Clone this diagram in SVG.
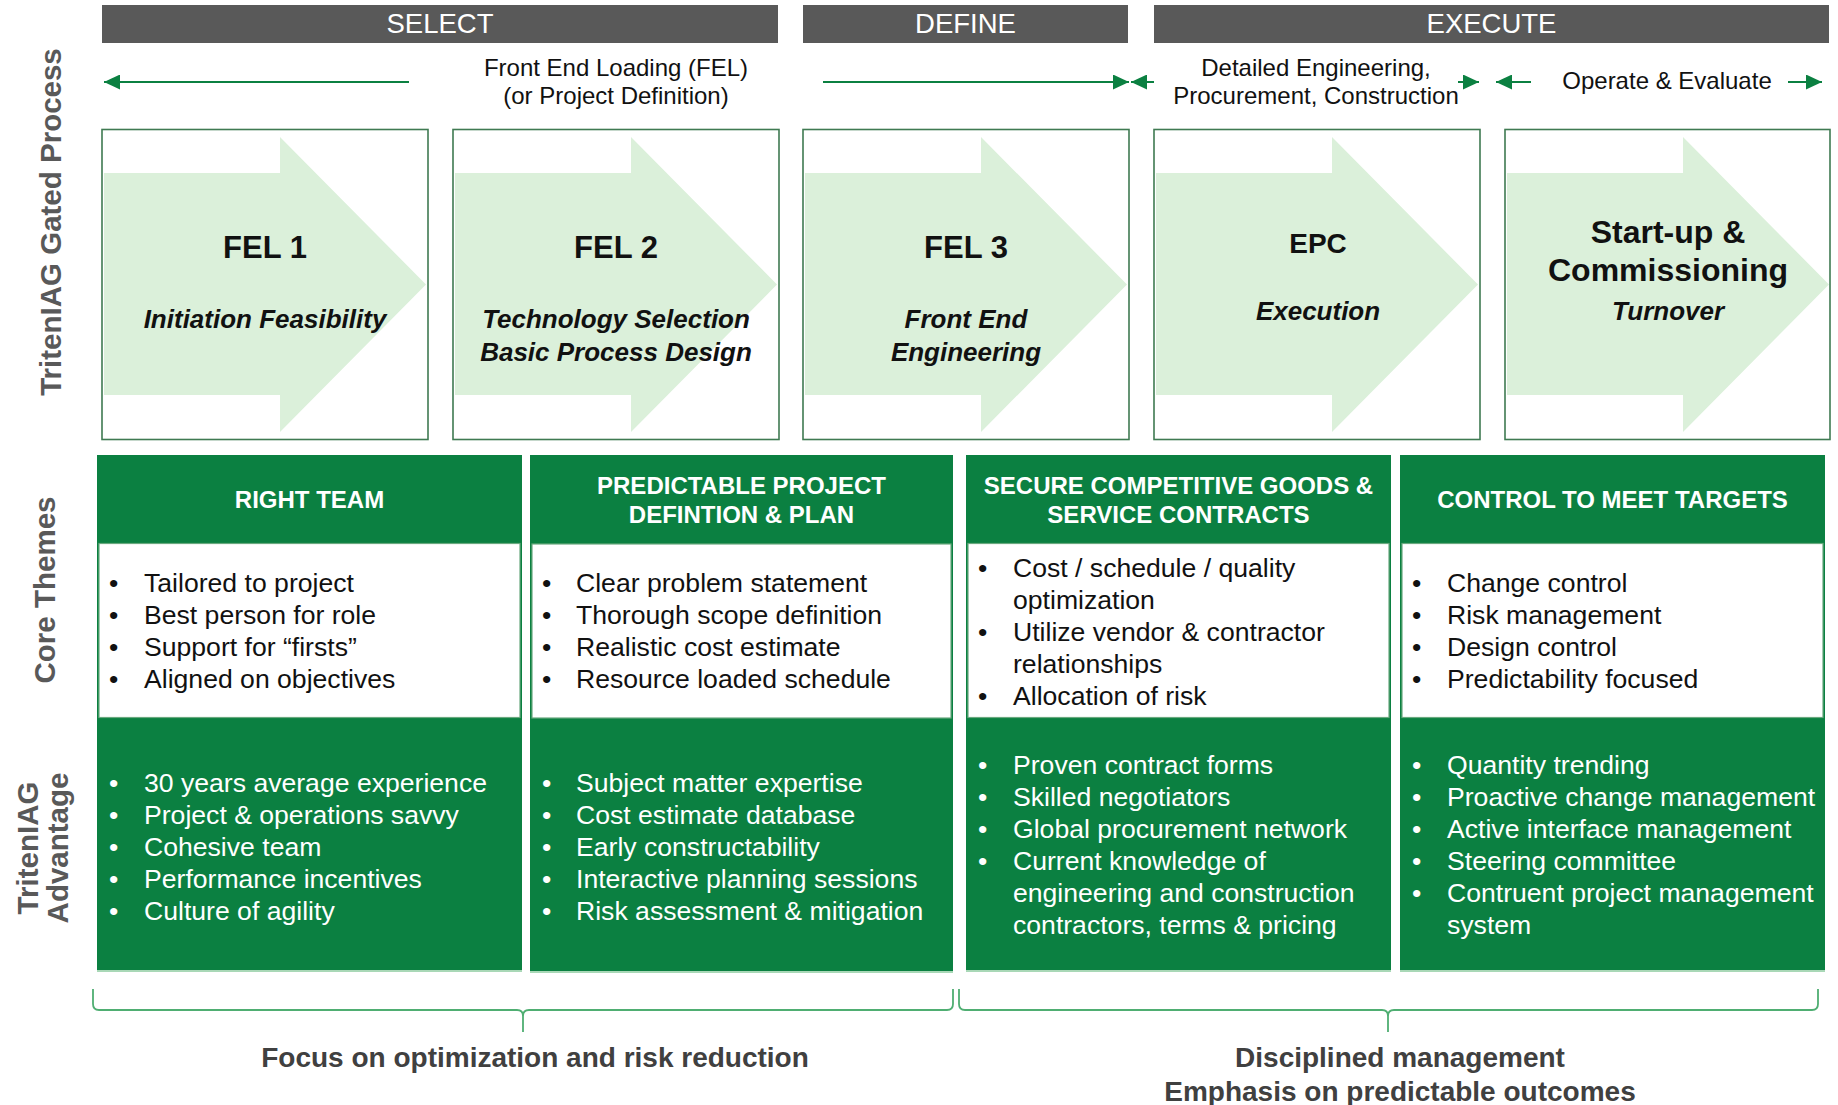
<svg xmlns="http://www.w3.org/2000/svg" width="1838" height="1105" viewBox="0 0 1838 1105">
  <style>
    text { font-family: "Liberation Sans", Arial, sans-serif; }
    .phase-bar { fill: #595959; }
    .phase-label { fill: #ffffff; font-size: 27.5px; text-anchor: middle; }
    .span-label { fill: #111111; font-size: 24px; text-anchor: middle; }
    .stage-box { fill: #ffffff; stroke: #3f7a52; stroke-width: 1.6; }
    .stage-arrow { fill: #dbf0da; }
    .stage-title { fill: #111111; font-size: 31px; font-weight: bold; text-anchor: middle; }
    .stage-sub { fill: #111111; font-size: 26px; font-weight: bold; font-style: italic; text-anchor: middle; }
    .side-label { fill: #595959; font-size: 29.5px; font-weight: bold; text-anchor: middle; }
    .col { fill: #0b8041; }
    .col-white { fill: #ffffff; stroke: #6aa97f; stroke-width: 1.2; }
    .col-edge { stroke: #a9d8b7; stroke-width: 2; }
    .hdr { fill: #ffffff; font-size: 24px; font-weight: bold; text-anchor: middle; }
    .bl { font-size: 26.6px; }
    .bl-dark { fill: #111111; }
    .bl-light { fill: #ffffff; }
    .flow { stroke: #0b8041; stroke-width: 2; fill: none; }
    .brace { stroke: #4fae72; stroke-width: 1.8; fill: none; }
    .note { fill: #404040; font-size: 28px; font-weight: bold; text-anchor: middle; }
  </style>
  <defs>
    <marker id="head" markerUnits="userSpaceOnUse" markerWidth="16" markerHeight="15" refX="16" refY="7.5" orient="auto">
      <path d="M0,0 L16,7.5 L0,15 z" fill="#0b8041"/>
    </marker>
    <path id="stage-arrow-shape" d="M2,44 H178 V8 L324,155.5 L178,303 V266 H2 z"/>
  </defs>

  <rect width="1838" height="1105" fill="#ffffff"/>

  <!-- phase bars -->
  <g id="phase-select">
    <rect class="phase-bar" x="102" y="5" width="676" height="38"/>
    <text class="phase-label" x="440" y="33">SELECT</text>
  </g>
  <g id="phase-define">
    <rect class="phase-bar" x="803" y="5" width="325" height="38"/>
    <text class="phase-label" x="965.5" y="33">DEFINE</text>
  </g>
  <g id="phase-execute">
    <rect class="phase-bar" x="1154" y="5" width="675" height="38"/>
    <text class="phase-label" x="1491.5" y="33">EXECUTE</text>
  </g>

  <!-- span labels above the stages -->
  <g id="span-fel">
    <text class="span-label" x="616" y="76">Front End Loading (FEL)</text>
    <text class="span-label" x="616" y="104">(or Project Definition)</text>
  </g>
  <g id="span-epc">
    <text class="span-label" x="1316" y="76">Detailed Engineering,</text>
    <text class="span-label" x="1316" y="104">Procurement, Construction</text>
  </g>
  <g id="span-operate">
    <text class="span-label" x="1667" y="89">Operate &amp; Evaluate</text>
  </g>

  <!-- side labels -->
  <g id="side-gated">
    <text class="side-label" transform="translate(61,222) rotate(-90)">TritenIAG Gated Process</text>
  </g>
  <g id="side-themes">
    <text class="side-label" transform="translate(55,590) rotate(-90)">Core Themes</text>
  </g>
  <g id="side-advantage">
    <text class="side-label" transform="translate(38,848) rotate(-90)">TritenIAG</text>
    <text class="side-label" transform="translate(68,848) rotate(-90)">Advantage</text>
  </g>

  <!-- stages -->
  <g id="stage-fel1">
    <rect class="stage-box" x="102" y="129.5" width="326" height="310"/>
    <use href="#stage-arrow-shape" class="stage-arrow" x="102" y="129"/>
    <text class="stage-title" x="265" y="258">FEL 1</text>
    <text class="stage-sub" x="265" y="328">Initiation Feasibility</text>
  </g>
  <g id="stage-fel2">
    <rect class="stage-box" x="453" y="129.5" width="326" height="310"/>
    <use href="#stage-arrow-shape" class="stage-arrow" x="453" y="129"/>
    <text class="stage-title" x="616" y="258">FEL 2</text>
    <text class="stage-sub" x="616" y="328">Technology Selection</text>
    <text class="stage-sub" x="616" y="361">Basic Process Design</text>
  </g>
  <g id="stage-fel3">
    <rect class="stage-box" x="803" y="129.5" width="326" height="310"/>
    <use href="#stage-arrow-shape" class="stage-arrow" x="803" y="129"/>
    <text class="stage-title" x="966" y="258">FEL 3</text>
    <text class="stage-sub" x="966" y="328">Front End</text>
    <text class="stage-sub" x="966" y="361">Engineering</text>
  </g>
  <g id="stage-epc">
    <rect class="stage-box" x="1154" y="129.5" width="326" height="310"/>
    <use href="#stage-arrow-shape" class="stage-arrow" x="1154" y="129"/>
    <text class="stage-title" x="1318" y="253" style="font-size:28px">EPC</text>
    <text class="stage-sub" x="1318" y="320">Execution</text>
  </g>
  <g id="stage-startup">
    <rect class="stage-box" x="1505" y="129.5" width="325" height="310"/>
    <use href="#stage-arrow-shape" class="stage-arrow" x="1505" y="129"/>
    <text class="stage-title" x="1668" y="243" style="font-size:32px">Start-up &amp;</text>
    <text class="stage-title" x="1668" y="281" style="font-size:32px">Commissioning</text>
    <text class="stage-sub" x="1668" y="320">Turnover</text>
  </g>

  <!-- core theme columns -->
  <g id="theme-right-team">
    <rect class="col" x="97" y="455" width="425" height="515"/>
    <line class="col-edge" x1="97" y1="971" x2="522" y2="971"/>
    <rect class="col-white" x="99" y="543.5" width="421" height="174"/>
    <text class="hdr" x="309.5" y="508">RIGHT TEAM</text>
    <text class="bl bl-dark">
      <tspan x="109" y="592">•</tspan><tspan x="144" y="592">Tailored to project</tspan>
      <tspan x="109" y="624">•</tspan><tspan x="144" y="624">Best person for role</tspan>
      <tspan x="109" y="656">•</tspan><tspan x="144" y="656">Support for “firsts”</tspan>
      <tspan x="109" y="688">•</tspan><tspan x="144" y="688">Aligned on objectives</tspan>
    </text>
    <text class="bl bl-light">
      <tspan x="109" y="792">•</tspan><tspan x="144" y="792">30 years average experience</tspan>
      <tspan x="109" y="824">•</tspan><tspan x="144" y="824">Project &amp; operations savvy</tspan>
      <tspan x="109" y="856">•</tspan><tspan x="144" y="856">Cohesive team</tspan>
      <tspan x="109" y="888">•</tspan><tspan x="144" y="888">Performance incentives</tspan>
      <tspan x="109" y="920">•</tspan><tspan x="144" y="920">Culture of agility</tspan>
    </text>
  </g>

  <g id="theme-definition">
    <rect class="col" x="530" y="455" width="423" height="516"/>
    <line class="col-edge" x1="530" y1="972" x2="953" y2="972"/>
    <rect class="col-white" x="532" y="544" width="419" height="174"/>
    <text class="hdr" x="741.5" y="494">PREDICTABLE PROJECT</text>
    <text class="hdr" x="741.5" y="523">DEFINTION &amp; PLAN</text>
    <text class="bl bl-dark">
      <tspan x="542" y="592">•</tspan><tspan x="576" y="592">Clear problem statement</tspan>
      <tspan x="542" y="624">•</tspan><tspan x="576" y="624">Thorough scope definition</tspan>
      <tspan x="542" y="656">•</tspan><tspan x="576" y="656">Realistic cost estimate</tspan>
      <tspan x="542" y="688">•</tspan><tspan x="576" y="688">Resource loaded schedule</tspan>
    </text>
    <text class="bl bl-light">
      <tspan x="542" y="792">•</tspan><tspan x="576" y="792">Subject matter expertise</tspan>
      <tspan x="542" y="824">•</tspan><tspan x="576" y="824">Cost estimate database</tspan>
      <tspan x="542" y="856">•</tspan><tspan x="576" y="856">Early constructability</tspan>
      <tspan x="542" y="888">•</tspan><tspan x="576" y="888">Interactive planning sessions</tspan>
      <tspan x="542" y="920">•</tspan><tspan x="576" y="920">Risk assessment &amp; mitigation</tspan>
    </text>
  </g>

  <g id="theme-contracts">
    <rect class="col" x="966" y="455" width="425" height="515"/>
    <line class="col-edge" x1="966" y1="971" x2="1391" y2="971"/>
    <rect class="col-white" x="968" y="543.5" width="421" height="174"/>
    <text class="hdr" x="1178.5" y="494">SECURE COMPETITIVE GOODS &amp;</text>
    <text class="hdr" x="1178.5" y="523">SERVICE CONTRACTS</text>
    <text class="bl bl-dark">
      <tspan x="978" y="577">•</tspan><tspan x="1013" y="577">Cost / schedule / quality</tspan>
      <tspan x="1013" y="609">optimization</tspan>
      <tspan x="978" y="641">•</tspan><tspan x="1013" y="641">Utilize vendor &amp; contractor</tspan>
      <tspan x="1013" y="673">relationships</tspan>
      <tspan x="978" y="705">•</tspan><tspan x="1013" y="705">Allocation of risk</tspan>
    </text>
    <text class="bl bl-light">
      <tspan x="978" y="774">•</tspan><tspan x="1013" y="774">Proven contract forms</tspan>
      <tspan x="978" y="806">•</tspan><tspan x="1013" y="806">Skilled negotiators</tspan>
      <tspan x="978" y="838">•</tspan><tspan x="1013" y="838">Global procurement network</tspan>
      <tspan x="978" y="870">•</tspan><tspan x="1013" y="870">Current knowledge of</tspan>
      <tspan x="1013" y="902">engineering and construction</tspan>
      <tspan x="1013" y="934">contractors, terms &amp; pricing</tspan>
    </text>
  </g>

  <g id="theme-control">
    <rect class="col" x="1400" y="455" width="425" height="515"/>
    <line class="col-edge" x1="1400" y1="971" x2="1825" y2="971"/>
    <rect class="col-white" x="1402" y="543.5" width="421" height="174"/>
    <text class="hdr" x="1612.5" y="508">CONTROL TO MEET TARGETS</text>
    <text class="bl bl-dark">
      <tspan x="1412" y="592">•</tspan><tspan x="1447" y="592">Change control</tspan>
      <tspan x="1412" y="624">•</tspan><tspan x="1447" y="624">Risk management</tspan>
      <tspan x="1412" y="656">•</tspan><tspan x="1447" y="656">Design control</tspan>
      <tspan x="1412" y="688">•</tspan><tspan x="1447" y="688">Predictability focused</tspan>
    </text>
    <text class="bl bl-light">
      <tspan x="1412" y="774">•</tspan><tspan x="1447" y="774">Quantity trending</tspan>
      <tspan x="1412" y="806">•</tspan><tspan x="1447" y="806">Proactive change management</tspan>
      <tspan x="1412" y="838">•</tspan><tspan x="1447" y="838">Active interface management</tspan>
      <tspan x="1412" y="870">•</tspan><tspan x="1447" y="870">Steering committee</tspan>
      <tspan x="1412" y="902">•</tspan><tspan x="1447" y="902">Contruent project management</tspan>
      <tspan x="1447" y="934">system</tspan>
    </text>
  </g>

  <!-- summary notes -->
  <g id="note-optimization">
    <text class="note" x="535" y="1067">Focus on optimization and risk reduction</text>
  </g>
  <g id="note-discipline">
    <text class="note" x="1400" y="1067">Disciplined management</text>
    <text class="note" x="1400" y="1101">Emphasis on predictable outcomes</text>
  </g>

  <!-- connectors: span arrows and grouping braces -->
  <g id="connectors">
    <line class="flow" x1="409" y1="82" x2="104" y2="82" marker-end="url(#head)"/>
    <line class="flow" x1="823" y1="82" x2="1129" y2="82" marker-end="url(#head)"/>
    <line class="flow" x1="1154" y1="82" x2="1131" y2="82" marker-end="url(#head)"/>
    <line class="flow" x1="1458" y1="82" x2="1479" y2="82" marker-end="url(#head)"/>
    <line class="flow" x1="1531" y1="82" x2="1496" y2="82" marker-end="url(#head)"/>
    <line class="flow" x1="1788" y1="82" x2="1822" y2="82" marker-end="url(#head)"/>
    <path class="brace" d="M93,989 V1004 Q93,1010 99,1010 H517 Q523,1010 523,1016 V1032 M523,1016 Q523,1010 529,1010 H947 Q953,1010 953,1004 V989"/>
    <path class="brace" d="M959,989 V1004 Q959,1010 965,1010 H1382 Q1388,1010 1388,1016 V1032 M1388,1016 Q1388,1010 1394,1010 H1812 Q1818,1010 1818,1004 V989"/>
  </g>
</svg>
